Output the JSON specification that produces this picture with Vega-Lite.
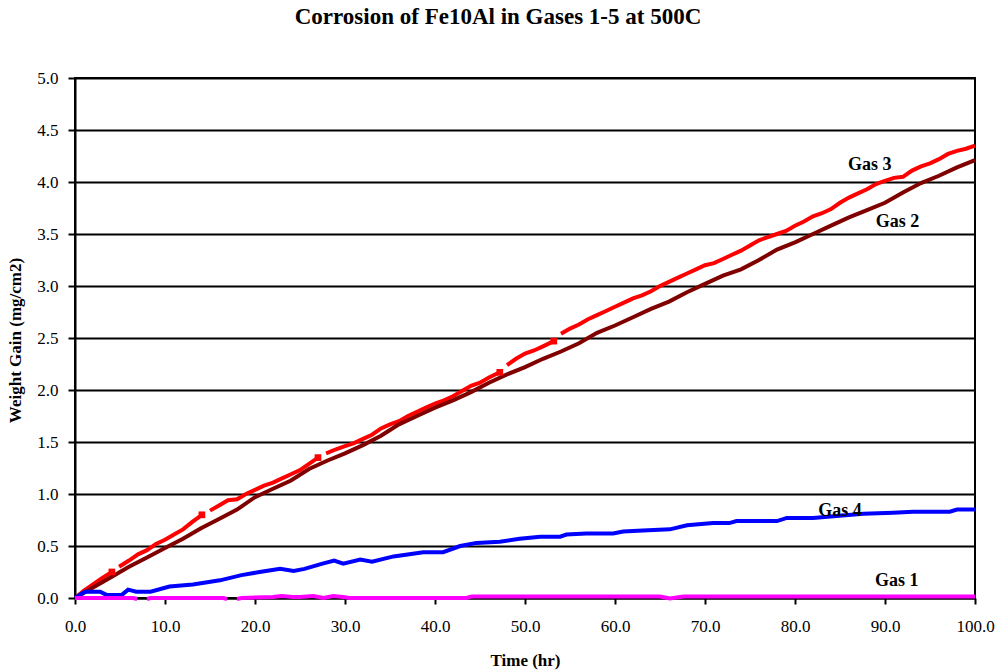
{
  "$schema": "https://vega.github.io/schema/vega-lite/v6.json",
  "width": 900,
  "height": 520,
  "autosize": "none",
  "padding": {"left": 75, "top": 78, "right": 21, "bottom": 73},
  "background": "white",
  "title": {"text": "Corrosion of Fe10Al in Gases 1-5 at 500C", "font": "Liberation Serif", "fontSize": 23, "fontWeight": "bold", "color": "black", "anchor": "middle", "offset": 40, "dx": -27},
  "config": {
    "view": {"stroke": "black", "strokeWidth": 2},
    "font": "Liberation Serif"
  },
  "datasets": {
    "series": [
      {"g": "Gas 3", "s": 1, "t": 0, "w": 0},
      {"g": "Gas 3", "s": 1, "t": 1, "w": 0.07},
      {"g": "Gas 3", "s": 1, "t": 2, "w": 0.13},
      {"g": "Gas 3", "s": 1, "t": 3, "w": 0.19},
      {"g": "Gas 3", "s": 1, "t": 4.1, "w": 0.25},
      {"g": "Gas 3", "s": 2, "t": 4.9, "w": 0.3},
      {"g": "Gas 3", "s": 2, "t": 6, "w": 0.36},
      {"g": "Gas 3", "s": 2, "t": 7, "w": 0.42},
      {"g": "Gas 3", "s": 2, "t": 8, "w": 0.46},
      {"g": "Gas 3", "s": 2, "t": 9, "w": 0.52},
      {"g": "Gas 3", "s": 2, "t": 10, "w": 0.56},
      {"g": "Gas 3", "s": 2, "t": 11, "w": 0.61},
      {"g": "Gas 3", "s": 2, "t": 12, "w": 0.66},
      {"g": "Gas 3", "s": 2, "t": 13, "w": 0.73},
      {"g": "Gas 3", "s": 2, "t": 14.1, "w": 0.8},
      {"g": "Gas 3", "s": 3, "t": 15, "w": 0.84},
      {"g": "Gas 3", "s": 3, "t": 16, "w": 0.89},
      {"g": "Gas 3", "s": 3, "t": 17, "w": 0.94},
      {"g": "Gas 3", "s": 3, "t": 18, "w": 0.95},
      {"g": "Gas 3", "s": 3, "t": 19, "w": 1.0},
      {"g": "Gas 3", "s": 3, "t": 20, "w": 1.04},
      {"g": "Gas 3", "s": 3, "t": 21, "w": 1.08},
      {"g": "Gas 3", "s": 3, "t": 22, "w": 1.11},
      {"g": "Gas 3", "s": 3, "t": 23, "w": 1.15},
      {"g": "Gas 3", "s": 3, "t": 24, "w": 1.19},
      {"g": "Gas 3", "s": 3, "t": 25, "w": 1.23},
      {"g": "Gas 3", "s": 3, "t": 26, "w": 1.29},
      {"g": "Gas 3", "s": 3, "t": 27, "w": 1.35},
      {"g": "Gas 3", "s": 4, "t": 27.9, "w": 1.39},
      {"g": "Gas 3", "s": 4, "t": 29, "w": 1.43},
      {"g": "Gas 3", "s": 4, "t": 30, "w": 1.46},
      {"g": "Gas 3", "s": 4, "t": 31, "w": 1.49},
      {"g": "Gas 3", "s": 4, "t": 32, "w": 1.53},
      {"g": "Gas 3", "s": 4, "t": 33, "w": 1.57},
      {"g": "Gas 3", "s": 4, "t": 34, "w": 1.63},
      {"g": "Gas 3", "s": 4, "t": 35, "w": 1.67},
      {"g": "Gas 3", "s": 4, "t": 36, "w": 1.7},
      {"g": "Gas 3", "s": 4, "t": 37, "w": 1.75},
      {"g": "Gas 3", "s": 4, "t": 38, "w": 1.79},
      {"g": "Gas 3", "s": 4, "t": 39, "w": 1.83},
      {"g": "Gas 3", "s": 4, "t": 40, "w": 1.87},
      {"g": "Gas 3", "s": 4, "t": 41, "w": 1.9},
      {"g": "Gas 3", "s": 4, "t": 42, "w": 1.94},
      {"g": "Gas 3", "s": 4, "t": 43, "w": 1.99},
      {"g": "Gas 3", "s": 4, "t": 44, "w": 2.04},
      {"g": "Gas 3", "s": 4, "t": 45, "w": 2.07},
      {"g": "Gas 3", "s": 4, "t": 46, "w": 2.12},
      {"g": "Gas 3", "s": 4, "t": 47.2, "w": 2.17},
      {"g": "Gas 3", "s": 5, "t": 48, "w": 2.24},
      {"g": "Gas 3", "s": 5, "t": 49, "w": 2.3},
      {"g": "Gas 3", "s": 5, "t": 50, "w": 2.35},
      {"g": "Gas 3", "s": 5, "t": 51, "w": 2.38},
      {"g": "Gas 3", "s": 5, "t": 52, "w": 2.42},
      {"g": "Gas 3", "s": 5, "t": 53.2, "w": 2.47},
      {"g": "Gas 3", "s": 6, "t": 54, "w": 2.54},
      {"g": "Gas 3", "s": 6, "t": 55, "w": 2.59},
      {"g": "Gas 3", "s": 6, "t": 56, "w": 2.63},
      {"g": "Gas 3", "s": 6, "t": 57, "w": 2.68},
      {"g": "Gas 3", "s": 6, "t": 58, "w": 2.72},
      {"g": "Gas 3", "s": 6, "t": 59, "w": 2.76},
      {"g": "Gas 3", "s": 6, "t": 60, "w": 2.8},
      {"g": "Gas 3", "s": 6, "t": 61, "w": 2.84},
      {"g": "Gas 3", "s": 6, "t": 62, "w": 2.88},
      {"g": "Gas 3", "s": 6, "t": 63, "w": 2.91},
      {"g": "Gas 3", "s": 6, "t": 64, "w": 2.95},
      {"g": "Gas 3", "s": 6, "t": 65, "w": 3.0},
      {"g": "Gas 3", "s": 6, "t": 66, "w": 3.04},
      {"g": "Gas 3", "s": 6, "t": 67, "w": 3.08},
      {"g": "Gas 3", "s": 6, "t": 68, "w": 3.12},
      {"g": "Gas 3", "s": 6, "t": 69, "w": 3.16},
      {"g": "Gas 3", "s": 6, "t": 70, "w": 3.2},
      {"g": "Gas 3", "s": 6, "t": 71, "w": 3.22},
      {"g": "Gas 3", "s": 6, "t": 72, "w": 3.26},
      {"g": "Gas 3", "s": 6, "t": 73, "w": 3.3},
      {"g": "Gas 3", "s": 6, "t": 74, "w": 3.34},
      {"g": "Gas 3", "s": 6, "t": 75, "w": 3.39},
      {"g": "Gas 3", "s": 6, "t": 76, "w": 3.44},
      {"g": "Gas 3", "s": 6, "t": 77, "w": 3.47},
      {"g": "Gas 3", "s": 6, "t": 78, "w": 3.5},
      {"g": "Gas 3", "s": 6, "t": 79, "w": 3.53},
      {"g": "Gas 3", "s": 6, "t": 80, "w": 3.58},
      {"g": "Gas 3", "s": 6, "t": 81, "w": 3.62},
      {"g": "Gas 3", "s": 6, "t": 82, "w": 3.67},
      {"g": "Gas 3", "s": 6, "t": 83, "w": 3.7},
      {"g": "Gas 3", "s": 6, "t": 84, "w": 3.74},
      {"g": "Gas 3", "s": 6, "t": 85, "w": 3.8},
      {"g": "Gas 3", "s": 6, "t": 86, "w": 3.85},
      {"g": "Gas 3", "s": 6, "t": 87, "w": 3.89},
      {"g": "Gas 3", "s": 6, "t": 88, "w": 3.93},
      {"g": "Gas 3", "s": 6, "t": 89, "w": 3.98},
      {"g": "Gas 3", "s": 6, "t": 90, "w": 4.01},
      {"g": "Gas 3", "s": 6, "t": 91, "w": 4.04},
      {"g": "Gas 3", "s": 6, "t": 92, "w": 4.05},
      {"g": "Gas 3", "s": 6, "t": 93, "w": 4.11},
      {"g": "Gas 3", "s": 6, "t": 94, "w": 4.15},
      {"g": "Gas 3", "s": 6, "t": 95, "w": 4.18},
      {"g": "Gas 3", "s": 6, "t": 96, "w": 4.22},
      {"g": "Gas 3", "s": 6, "t": 97, "w": 4.27},
      {"g": "Gas 3", "s": 6, "t": 98, "w": 4.3},
      {"g": "Gas 3", "s": 6, "t": 99, "w": 4.32},
      {"g": "Gas 3", "s": 6, "t": 100, "w": 4.35},
      {"g": "Gas 2", "t": 0, "w": 0},
      {"g": "Gas 2", "t": 2, "w": 0.1},
      {"g": "Gas 2", "t": 4, "w": 0.2},
      {"g": "Gas 2", "t": 6, "w": 0.3},
      {"g": "Gas 2", "t": 8, "w": 0.39},
      {"g": "Gas 2", "t": 10, "w": 0.48},
      {"g": "Gas 2", "t": 12, "w": 0.57},
      {"g": "Gas 2", "t": 14, "w": 0.67},
      {"g": "Gas 2", "t": 16, "w": 0.76},
      {"g": "Gas 2", "t": 18, "w": 0.85},
      {"g": "Gas 2", "t": 20, "w": 0.97},
      {"g": "Gas 2", "t": 22, "w": 1.05},
      {"g": "Gas 2", "t": 24, "w": 1.13},
      {"g": "Gas 2", "t": 26, "w": 1.24},
      {"g": "Gas 2", "t": 28, "w": 1.32},
      {"g": "Gas 2", "t": 30, "w": 1.39},
      {"g": "Gas 2", "t": 32, "w": 1.47},
      {"g": "Gas 2", "t": 34, "w": 1.56},
      {"g": "Gas 2", "t": 36, "w": 1.67},
      {"g": "Gas 2", "t": 38, "w": 1.75},
      {"g": "Gas 2", "t": 40, "w": 1.83},
      {"g": "Gas 2", "t": 42, "w": 1.9},
      {"g": "Gas 2", "t": 44, "w": 1.98},
      {"g": "Gas 2", "t": 46, "w": 2.07},
      {"g": "Gas 2", "t": 48, "w": 2.15},
      {"g": "Gas 2", "t": 50, "w": 2.22},
      {"g": "Gas 2", "t": 52, "w": 2.3},
      {"g": "Gas 2", "t": 54, "w": 2.37},
      {"g": "Gas 2", "t": 56, "w": 2.45},
      {"g": "Gas 2", "t": 58, "w": 2.55},
      {"g": "Gas 2", "t": 60, "w": 2.62},
      {"g": "Gas 2", "t": 62, "w": 2.7},
      {"g": "Gas 2", "t": 64, "w": 2.78},
      {"g": "Gas 2", "t": 66, "w": 2.85},
      {"g": "Gas 2", "t": 68, "w": 2.94},
      {"g": "Gas 2", "t": 70, "w": 3.02},
      {"g": "Gas 2", "t": 72, "w": 3.1},
      {"g": "Gas 2", "t": 74, "w": 3.16},
      {"g": "Gas 2", "t": 76, "w": 3.25},
      {"g": "Gas 2", "t": 78, "w": 3.35},
      {"g": "Gas 2", "t": 80, "w": 3.42},
      {"g": "Gas 2", "t": 82, "w": 3.5},
      {"g": "Gas 2", "t": 84, "w": 3.58},
      {"g": "Gas 2", "t": 86, "w": 3.66},
      {"g": "Gas 2", "t": 88, "w": 3.73},
      {"g": "Gas 2", "t": 90, "w": 3.8},
      {"g": "Gas 2", "t": 92, "w": 3.9},
      {"g": "Gas 2", "t": 94, "w": 3.99},
      {"g": "Gas 2", "t": 96, "w": 4.06},
      {"g": "Gas 2", "t": 98, "w": 4.14},
      {"g": "Gas 2", "t": 100, "w": 4.21},
      {"g": "Gas 4", "t": 0, "w": 0},
      {"g": "Gas 4", "t": 1.1, "w": 0.06},
      {"g": "Gas 4", "t": 2.8, "w": 0.06},
      {"g": "Gas 4", "t": 3.5, "w": 0.03},
      {"g": "Gas 4", "t": 5.2, "w": 0.03},
      {"g": "Gas 4", "t": 5.9, "w": 0.08},
      {"g": "Gas 4", "t": 6.8, "w": 0.06},
      {"g": "Gas 4", "t": 8.4, "w": 0.06},
      {"g": "Gas 4", "t": 10.5, "w": 0.11},
      {"g": "Gas 4", "t": 13.1, "w": 0.13},
      {"g": "Gas 4", "t": 16.1, "w": 0.17},
      {"g": "Gas 4", "t": 18.5, "w": 0.22},
      {"g": "Gas 4", "t": 20.5, "w": 0.25},
      {"g": "Gas 4", "t": 22.8, "w": 0.28},
      {"g": "Gas 4", "t": 24.3, "w": 0.26},
      {"g": "Gas 4", "t": 25.5, "w": 0.28},
      {"g": "Gas 4", "t": 27.5, "w": 0.33},
      {"g": "Gas 4", "t": 28.8, "w": 0.36},
      {"g": "Gas 4", "t": 29.8, "w": 0.33},
      {"g": "Gas 4", "t": 31.7, "w": 0.37},
      {"g": "Gas 4", "t": 33, "w": 0.35},
      {"g": "Gas 4", "t": 35.4, "w": 0.4},
      {"g": "Gas 4", "t": 38.7, "w": 0.44},
      {"g": "Gas 4", "t": 40.9, "w": 0.44},
      {"g": "Gas 4", "t": 42.8, "w": 0.5},
      {"g": "Gas 4", "t": 44.6, "w": 0.53},
      {"g": "Gas 4", "t": 47.2, "w": 0.54},
      {"g": "Gas 4", "t": 49.4, "w": 0.57},
      {"g": "Gas 4", "t": 51.7, "w": 0.59},
      {"g": "Gas 4", "t": 53.9, "w": 0.59},
      {"g": "Gas 4", "t": 54.6, "w": 0.61},
      {"g": "Gas 4", "t": 56.8, "w": 0.62},
      {"g": "Gas 4", "t": 59.8, "w": 0.62},
      {"g": "Gas 4", "t": 60.9, "w": 0.64},
      {"g": "Gas 4", "t": 63.1, "w": 0.65},
      {"g": "Gas 4", "t": 66.1, "w": 0.66},
      {"g": "Gas 4", "t": 68, "w": 0.7},
      {"g": "Gas 4", "t": 70.9, "w": 0.72},
      {"g": "Gas 4", "t": 72.7, "w": 0.72},
      {"g": "Gas 4", "t": 73.5, "w": 0.74},
      {"g": "Gas 4", "t": 78, "w": 0.74},
      {"g": "Gas 4", "t": 79.1, "w": 0.77},
      {"g": "Gas 4", "t": 82, "w": 0.77},
      {"g": "Gas 4", "t": 87.6, "w": 0.81},
      {"g": "Gas 4", "t": 90.9, "w": 0.82},
      {"g": "Gas 4", "t": 93.1, "w": 0.83},
      {"g": "Gas 4", "t": 97.2, "w": 0.83},
      {"g": "Gas 4", "t": 98, "w": 0.85},
      {"g": "Gas 4", "t": 100, "w": 0.85},
      {"g": "Gas 1", "s": 1, "t": 0, "w": 0},
      {"g": "Gas 1", "s": 1, "t": 6.5, "w": 0},
      {"g": "Gas 1", "s": 1, "t": 6.9, "w": -0.01},
      {"g": "Gas 1", "s": 2, "t": 8.0, "w": -0.01},
      {"g": "Gas 1", "s": 2, "t": 8.4, "w": 0},
      {"g": "Gas 1", "s": 2, "t": 16.5, "w": 0},
      {"g": "Gas 1", "s": 2, "t": 16.9, "w": -0.01},
      {"g": "Gas 1", "s": 3, "t": 18.0, "w": -0.01},
      {"g": "Gas 1", "s": 3, "t": 18.5, "w": 0},
      {"g": "Gas 1", "s": 3, "t": 22, "w": 0.01},
      {"g": "Gas 1", "s": 3, "t": 23, "w": 0.02},
      {"g": "Gas 1", "s": 3, "t": 24.2, "w": 0.01},
      {"g": "Gas 1", "s": 3, "t": 25, "w": 0.01},
      {"g": "Gas 1", "s": 3, "t": 26.5, "w": 0.02},
      {"g": "Gas 1", "s": 3, "t": 27.6, "w": 0},
      {"g": "Gas 1", "s": 3, "t": 28.7, "w": 0.02},
      {"g": "Gas 1", "s": 3, "t": 29.8, "w": 0.01},
      {"g": "Gas 1", "s": 3, "t": 30.5, "w": 0},
      {"g": "Gas 1", "s": 3, "t": 43.5, "w": 0},
      {"g": "Gas 1", "s": 3, "t": 44.1, "w": 0.015},
      {"g": "Gas 1", "s": 3, "t": 65, "w": 0.015},
      {"g": "Gas 1", "s": 3, "t": 66.1, "w": -0.005},
      {"g": "Gas 1", "s": 3, "t": 67.6, "w": 0.015},
      {"g": "Gas 1", "s": 3, "t": 100, "w": 0.015}
    ],
    "markers": [
      {"t": 4.1, "w": 0.25},
      {"t": 14.1, "w": 0.8},
      {"t": 27, "w": 1.35},
      {"t": 47.2, "w": 2.17},
      {"t": 53.2, "w": 2.47}
    ],
    "labels": [
      {"label": "Gas 3", "t": 88.3, "w": 4.16},
      {"label": "Gas 2", "t": 91.4, "w": 3.62},
      {"label": "Gas 4", "t": 85.0, "w": 0.84},
      {"label": "Gas 1", "t": 91.3, "w": 0.16}
    ]
  },
  "layer": [
    {
      "data": {"name": "series"},
      "mark": {"type": "line", "strokeWidth": 4, "interpolate": "linear"},
      "encoding": {
        "x": {
          "field": "t", "type": "quantitative",
          "scale": {"domain": [0, 100], "nice": false, "zero": false},
          "axis": {
            "title": "Time (hr)", "values": [0, 10, 20, 30, 40, 50, 60, 70, 80, 90, 100], "format": ".1f",
            "grid": false, "domainColor": "black", "domainWidth": 2, "tickColor": "black", "tickWidth": 2, "tickSize": 6,
            "labelFont": "Liberation Serif", "labelFontSize": 17, "labelColor": "black", "labelPadding": 14, "labelFlush": false,
            "titleFont": "Liberation Serif", "titleFontSize": 17, "titleFontWeight": "bold", "titleColor": "black",
            "titleY": 67, "titleBaseline": "alphabetic"
          }
        },
        "y": {
          "field": "w", "type": "quantitative",
          "scale": {"domain": [0, 5], "nice": false, "zero": false},
          "axis": {
            "title": "Weight Gain (mg/cm2)", "values": [0, 0.5, 1, 1.5, 2, 2.5, 3, 3.5, 4, 4.5, 5], "format": ".1f",
            "grid": true, "gridColor": "black", "gridWidth": 2, "gridOpacity": 1,
            "domainColor": "black", "domainWidth": 2, "tickColor": "black", "tickWidth": 2, "tickSize": 7,
            "labelFont": "Liberation Serif", "labelFontSize": 17, "labelColor": "black", "labelPadding": 10,
            "titleFont": "Liberation Serif", "titleFontSize": 17, "titleFontWeight": "bold", "titleColor": "black",
            "titleX": -60, "titleY": 262, "titleBaseline": "middle", "titleAngle": -90
          }
        },
        "color": {
          "field": "g", "type": "nominal",
          "scale": {"domain": ["Gas 1", "Gas 2", "Gas 3", "Gas 4"], "range": ["#FF00FF", "#800000", "#FF0000", "#0000FF"]},
          "legend": null
        },
        "detail": {"field": "s", "type": "nominal"}
      }
    },
    {
      "data": {"name": "markers"},
      "mark": {"type": "square", "filled": true, "color": "#FF0000", "size": 45, "opacity": 1},
      "encoding": {
        "x": {"field": "t", "type": "quantitative"},
        "y": {"field": "w", "type": "quantitative"}
      }
    },
    {
      "data": {"name": "labels"},
      "mark": {"type": "text", "font": "Liberation Serif", "fontSize": 18, "fontWeight": "bold", "color": "black", "align": "center", "baseline": "middle"},
      "encoding": {
        "x": {"field": "t", "type": "quantitative"},
        "y": {"field": "w", "type": "quantitative"},
        "text": {"field": "label"}
      }
    }
  ]
}
